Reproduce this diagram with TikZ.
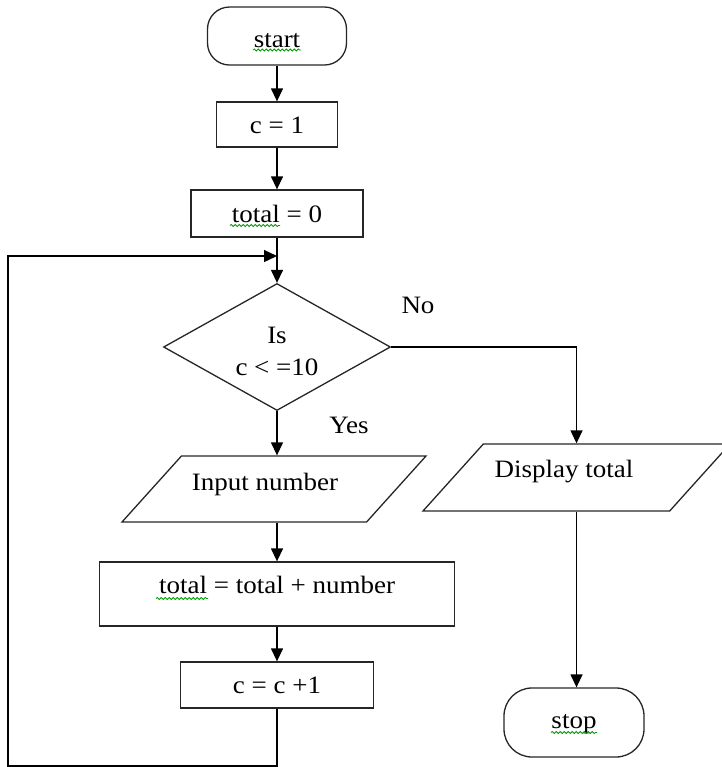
\documentclass[tikz,border=0pt]{standalone}
\usepackage{fontspec}
\setmainfont{Liberation Serif}[FakeStretch=1.08]
\usetikzlibrary{shapes.geometric,arrows.meta,decorations.pathmorphing}
\tikzset{
  >={Triangle[width=6pt,length=6.5pt]},
  flow/.style={draw=black!85, line width=0.65pt, inner xsep=0pt, inner ysep=0pt},
  terminal/.style={flow, rectangle, rounded corners=11pt},
  process/.style={flow, rectangle},
  io/.style={flow, trapezium, trapezium left angle=48, trapezium right angle=132,
    trapezium stretches body},
  decision/.style={flow, diamond, aspect=1.8, align=center},
  link/.style={line width=0.65pt, ->},
  squiggle/.style={green!60!black, line width=0.4pt, decorate,
    decoration={snake, amplitude=0.5pt, segment length=2pt}}
}

\begin{document}
\begin{tikzpicture}[x=0.5pt,y=-0.5pt,font=\fontsize{12.5}{15}\selectfont]
  \useasboundingbox (0,0) rectangle (722,767);
  \node[terminal, minimum width=69.5pt, minimum height=29pt, text height=20pt, text depth=9pt]
    (start) at (277,36) {start};
  \node[process, minimum width=60.5pt, minimum height=22.5pt, text height=15.5pt, text depth=7pt]
    (cone) at (277,124.5) {c = 1};
  \node[process, minimum width=86pt, minimum height=23.5pt, text height=16pt, text depth=7.5pt]
    (tzero) at (277,213.5) {total = 0};
  \node[decision, minimum width=113.5pt, minimum height=63.5pt, text height=30pt, text depth=2pt]
    (test) at (277,347) {Is\\[1pt] c < =10};
  \node[io, minimum width=152pt, minimum height=33pt, text height=17pt, text depth=16pt]
    (inp) at (274,489) {Input number\kern9pt};
  \node[process, minimum width=177.5pt, minimum height=32pt, text height=15.5pt, text depth=16.5pt]
    (sum) at (277,594) {total = total + number};
  \node[process, minimum width=96.5pt, minimum height=23pt, text height=15.5pt, text depth=7.5pt]
    (inc) at (277,685) {c = c +1};
  \node[io, minimum width=153.5pt, minimum height=33.5pt, text height=16.5pt, text depth=17pt]
    (disp) at (576.5,477.5) {Display total\kern12.5pt};
  \node[terminal, rounded corners=14pt, minimum width=70pt, minimum height=34.5pt,
    text height=20pt, text depth=14.5pt] (stop) at (574,722.5) {stop};

  \node[anchor=base] (no) at (418,313) {No};
  \node[anchor=base] (yes) at (349,433) {Yes};

  \coordinate (join) at (277,256);
  \coordinate (corner) at (8,766);

  \draw[link] (start) -- (cone);
  \draw[link] (cone) -- (tzero);
  \draw[link] (tzero) -- (test);
  \draw[link] (test.south) -- (test.south |- inp.north);
  \draw[link] (inp.south -| sum.north) -- (sum.north);
  \draw[link] (sum) -- (inc);
  \draw[link] (inc.south) |- (corner) |- (join);
  \draw[link] (test.east) -| (disp.north);
  \draw[link] (disp.south) -- (disp.south |- stop.north);

  \draw[squiggle] (253,50) -- (301,50);
  \draw[squiggle] (230,225.5) -- (280,225.5);
  \draw[squiggle] (156,598.5) -- (208,598.5);
  \draw[squiggle] (551,732.5) -- (597,732.5);
\end{tikzpicture}
\end{document}
